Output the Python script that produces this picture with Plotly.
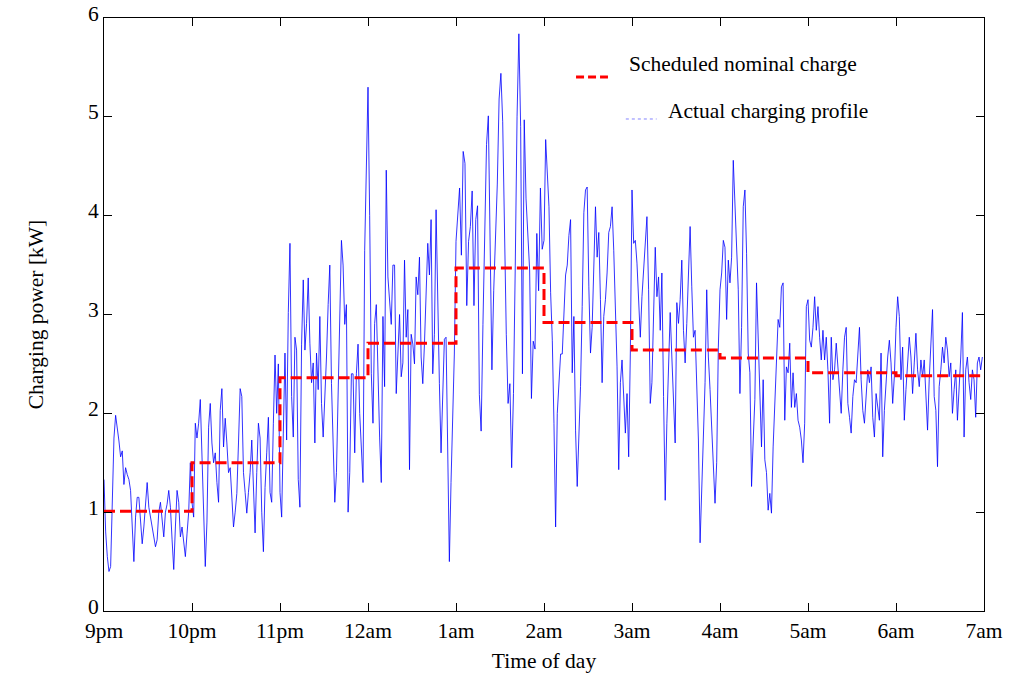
import numpy as np
import plotly.graph_objects as go

hour_labels = ["9pm", "10pm", "11pm", "12am", "1am", "2am", "3am", "4am", "5am", "6am", "7am"]
scheduled_kw = [1.01, 1.50, 2.36, 2.71, 3.47, 2.92, 2.64, 2.56, 2.41, 2.38]

actual_9pm = [1.33, 0.80, 0.55, 0.40, 0.45, 1.00, 1.75, 1.98, 1.86, 1.72, 1.56, 1.62, 1.28, 1.45, 1.38,
              1.33, 1.22, 0.80, 0.50, 0.95, 1.15, 1.15, 0.90, 0.68, 0.85, 1.05, 1.30, 1.05, 0.95, 0.88,
              0.76, 0.65, 0.72, 1.00, 1.10, 0.90, 0.75, 1.00, 1.08, 1.22, 1.05, 0.72, 0.42, 0.85, 1.22,
              1.10, 0.75, 0.85, 0.68, 0.55, 0.78, 1.00, 1.50]
actual_10pm = [1.10, 0.95, 1.90, 1.75, 1.90, 2.14, 1.60, 1.20, 0.45, 0.90, 1.86, 2.10, 1.70, 1.50, 1.60,
               1.30, 1.10, 2.03, 2.25, 1.66, 1.95, 1.70, 1.40, 1.45, 1.10, 0.85, 1.00, 1.19, 1.70, 2.25,
               2.17, 1.40, 1.20, 0.99, 1.20, 1.40, 1.73, 1.30, 0.79, 1.40, 1.90, 1.75, 1.00, 0.60, 1.25,
               1.60, 1.96, 1.20, 1.10, 1.90, 2.59, 2.00, 2.50]
actual_11pm = [1.20, 0.95, 1.80, 2.61, 1.73, 3.02, 3.72, 2.17, 1.76, 2.77, 2.64, 1.33, 1.05, 2.70, 3.35,
               2.64, 2.91, 3.37, 2.71, 2.31, 2.51, 1.70, 2.61, 2.24, 2.98, 2.10, 1.76, 2.14, 2.57, 3.10,
               3.50, 2.30, 1.60, 1.10, 1.40, 2.20, 3.30, 3.75, 3.50, 2.90, 3.10, 1.00, 1.40, 2.40, 2.40,
               1.60, 2.40, 2.70, 2.00, 1.60, 1.30, 3.65, 4.50]
actual_12am = [5.30, 4.00, 2.40, 1.90, 2.91, 3.10, 2.31, 1.76, 1.30, 2.98, 2.27, 4.46, 3.38, 3.12, 2.90,
               3.50, 3.50, 2.20, 2.60, 3.00, 2.37, 2.51, 3.55, 2.77, 3.05, 1.43, 2.80, 2.70, 2.50, 3.38,
               3.20, 3.58, 2.57, 2.30, 2.70, 3.30, 3.72, 3.40, 3.96, 2.40, 2.80, 4.06, 3.00, 2.30, 1.60,
               2.20, 2.75, 2.77, 1.70, 0.50, 1.30, 1.90, 2.60]
actual_1am = [3.74, 4.00, 4.28, 3.60, 4.65, 4.53, 3.09, 3.74, 3.89, 4.25, 3.09, 3.96, 4.10, 2.19, 1.82,
              2.90, 3.96, 4.72, 5.01, 3.82, 2.44, 3.24, 3.82, 4.32, 5.18, 5.44, 4.95, 3.60, 2.80, 2.10,
              2.30, 1.45, 2.20, 3.50, 5.00, 5.84, 4.90, 2.40, 4.97, 4.17, 3.82, 3.45, 2.15, 2.73, 2.65,
              3.82, 3.24, 4.28, 3.66]
actual_2am = [3.75, 4.77, 4.49, 4.09, 3.22, 2.74, 1.90, 0.85, 2.00, 2.30, 2.60, 2.60, 3.00, 3.40, 3.50,
              3.80, 3.96, 2.41, 2.98, 1.83, 1.26, 1.80, 2.27, 3.08, 4.03, 4.26, 4.29, 3.28, 2.61, 2.87,
              3.48, 4.09, 3.58, 3.83, 3.15, 2.31, 2.98, 3.15, 3.42, 3.83, 3.89, 4.09, 3.65, 3.15, 2.47,
              1.43, 2.31, 2.54, 2.14, 1.80, 2.20, 1.56, 2.61]
actual_3am = [4.26, 3.72, 3.75, 3.52, 3.18, 2.77, 3.18, 3.45, 3.65, 3.99, 3.25, 2.10, 2.31, 2.98, 3.68,
              3.18, 3.38, 2.84, 3.42, 2.17, 1.12, 1.90, 2.51, 3.02, 2.57, 2.17, 1.70, 3.12, 2.91, 3.15,
              3.55, 2.84, 2.51, 2.91, 3.42, 3.89, 3.28, 2.77, 2.84, 2.34, 1.73, 0.69, 1.19, 1.86, 2.31,
              3.25, 2.57, 2.24, 1.83, 1.50, 1.09, 1.50, 2.67]
actual_4am = [3.25, 3.42, 3.75, 3.68, 2.95, 3.55, 3.32, 3.58, 4.56, 4.16, 3.75, 3.25, 2.20, 2.87, 4.09,
              4.26, 3.62, 2.61, 2.41, 1.26, 1.73, 2.14, 3.32, 2.74, 2.34, 1.66, 2.34, 1.53, 1.40, 1.02,
              1.19, 0.99, 1.66, 2.14, 2.47, 2.95, 2.87, 3.28, 3.32, 1.93, 2.47, 2.41, 2.71, 2.06, 2.41,
              2.06, 2.20, 1.93, 1.86, 1.73, 1.50, 1.90, 3.08]
actual_5am = [3.15, 2.74, 2.67, 2.87, 3.18, 2.84, 3.08, 2.77, 2.54, 2.84, 2.54, 2.77, 2.44, 1.90, 2.77,
              2.34, 2.44, 2.71, 2.44, 2.24, 2.00, 2.44, 2.77, 2.87, 2.10, 1.96, 1.80, 2.17, 2.34, 2.31,
              2.61, 2.87, 2.34, 2.03, 1.90, 2.24, 2.44, 2.31, 2.47, 1.96, 1.76, 2.20, 2.03, 1.93, 2.61,
              1.56, 2.03, 2.31, 2.57, 2.74, 2.51, 2.10, 2.37]
actual_6am = [2.87, 3.18, 2.98, 2.34, 2.67, 1.93, 2.24, 2.54, 2.77, 2.57, 2.20, 2.51, 2.81, 2.44, 2.27,
              2.54, 2.37, 2.54, 2.17, 1.83, 2.34, 2.77, 3.05, 2.17, 2.03, 1.46, 2.27, 2.44, 2.67, 2.51,
              2.77, 2.64, 2.37, 2.51, 2.00, 2.24, 2.44, 1.93, 2.20, 2.57, 3.02, 1.76, 2.44, 2.57, 2.31,
              2.14, 2.44, 2.34, 1.96, 2.51, 2.57, 2.44, 2.57]

actual_by_hour = [actual_9pm, actual_10pm, actual_11pm, actual_12am, actual_1am,
                  actual_2am, actual_3am, actual_4am, actual_5am, actual_6am]

# time axis: hours after 9pm, readings evenly spaced within each hour
t_actual, p_actual = [], []
for h, vals in enumerate(actual_by_hour):
    n = len(vals)
    t_actual.extend((h + np.arange(n) / n).tolist())
    p_actual.extend(vals)

hours = list(range(len(hour_labels)))
sched_y = scheduled_kw + [scheduled_kw[-1]]

FONT = "Liberation Serif, Times New Roman, serif"
FS = 21.5

fig = go.Figure()
fig.add_trace(go.Scatter(
    x=t_actual, y=p_actual, mode="lines",
    line=dict(color="rgba(0,0,255,0.8)", width=1),
    name="Actual charging profile", showlegend=False))
fig.add_trace(go.Scatter(
    x=hours, y=sched_y, mode="lines",
    line=dict(color="#ff0000", width=3, dash="11px,5px", shape="hv"),
    name="Scheduled nominal charge", showlegend=False))

axis_common = dict(
    showline=True, linecolor="black", linewidth=1, mirror="ticks",
    ticks="inside", ticklen=8, tickwidth=1, tickcolor="black",
    showgrid=False, zeroline=False, automargin=False,
    ticklabeloverflow="allow",
    tickfont=dict(family=FONT, size=FS, color="black"),
)

fig.update_layout(
    width=1015, height=673,
    margin=dict(l=104, r=31, t=18, b=62),
    plot_bgcolor="white", paper_bgcolor="white",
    font=dict(family=FONT, size=FS, color="black"),
    xaxis=dict(range=[0, 10], tickvals=hours, ticktext=hour_labels,
               title=dict(text="Time of day", font=dict(family=FONT, size=FS), standoff=12),
               **axis_common),
    yaxis=dict(range=[0, 6], tickvals=[0, 1, 2, 3, 4, 5, 6], ticklabelshift=-5,
               title=dict(text="Charging power [kW]", font=dict(family=FONT, size=FS), standoff=38),
               **axis_common),
    showlegend=False,
)

# legend drawn in the style of the original (offset rows)
fig.add_shape(type="line", xref="paper", yref="paper",
              x0=0.5364, x1=0.5727, y0=0.9005, y1=0.9005,
              line=dict(color="#ff0000", width=3, dash="8px,4px"))
fig.add_shape(type="line", xref="paper", yref="paper",
              x0=0.593, x1=0.628, y0=0.8297, y1=0.8297,
              line=dict(color="rgba(80,80,255,0.7)", width=1, dash="dot"))
fig.add_annotation(xref="paper", yref="paper", x=0.5943, y=0.9224, xanchor="left", yanchor="middle",
                   text="Scheduled nominal charge", showarrow=False,
                   font=dict(family=FONT, size=FS, color="black"))
fig.add_annotation(xref="paper", yref="paper", x=0.6386, y=0.8432, xanchor="left", yanchor="middle",
                   text="Actual charging profile", showarrow=False,
                   font=dict(family=FONT, size=FS, color="black"))

# remove the default page margin so the figure sits at the window's top-left corner
fig.write_html("out.html", config={"displayModeBar": False},
               post_script="document.body.style.margin='0';")
